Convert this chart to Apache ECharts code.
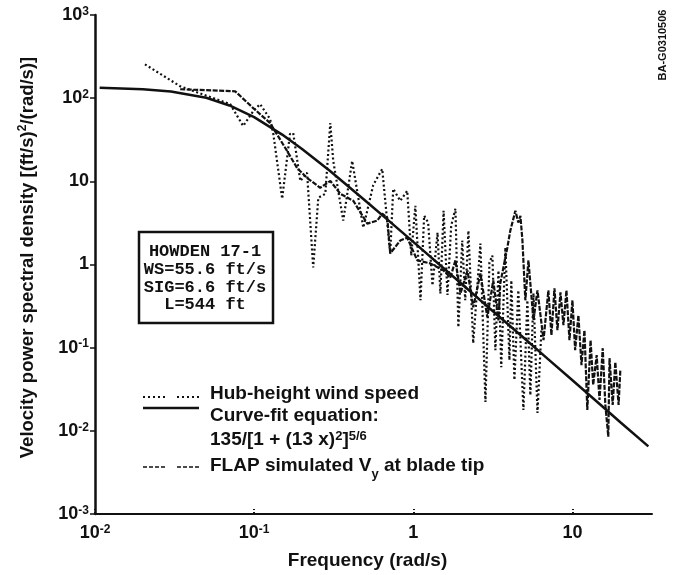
<!DOCTYPE html>
<html>
<head>
<meta charset="utf-8">
<script src="https://cdn.jsdelivr.net/npm/echarts@6/dist/echarts.min.js"></script>
<style>
html, body { margin: 0; background: #fff; }
#main { width: 678px; height: 575px; }
</style>
</head>
<body>
<div id="main"></div>
<script>
// values (frequency in rad/s, PSD in (ft/s)^2/(rad/s))
var hubFreq = [0.0206, 0.0343, 0.0707, 0.0853, 0.0987, 0.109, 0.126, 0.132, 0.150, 0.168, 0.176, 0.195, 0.215, 0.235, 0.253, 0.280, 0.301, 0.314, 0.363, 0.413, 0.485, 0.56, 0.638, 0.716, 0.748, 0.828, 0.916, 0.971, 1.03, 1.11, 1.17, 1.24, 1.32, 1.42, 1.48, 1.55, 1.64, 1.73, 1.84, 1.92, 2.03, 2.12, 2.22, 2.38, 2.64, 2.84, 3.01, 3.14, 3.28, 3.43, 3.57, 3.79, 4.02, 4.13, 4.32, 4.57, 4.92, 5.21, 5.44, 5.69, 6.03, 6.38];
var hubPsd = [255, 139, 84.7, 46.3, 69.8, 84.7, 56.1, 37.1, 6.17, 37.1, 38.1, 10.1, 12.7, 0.92, 6.34, 7.08, 50.2, 17.6, 3.37, 17.6, 2.77, 9.0, 14.1, 1.36, 8.13, 5.83, 7.69, 1.28, 5.09, 0.371, 3.86, 3.19, 0.561, 2.42, 0.45, 4.43, 0.43, 2.93, 4.69, 0.176, 1.94, 0.371, 2.55, 0.113, 1.79, 0.0222, 1.06, 1.28, 0.0934, 0.847, 0.0583, 1.60, 0.0708, 0.643, 0.0408, 0.489, 0.0178, 0.371, 0.0268, 0.45, 0.0164, 0.162];

var fitFreq = [0.0107, 0.02, 0.03, 0.05, 0.07, 0.1, 0.15, 0.2, 0.3, 0.5, 0.7, 1, 2, 3, 5, 7, 10, 15, 20, 30];
var fitPsd = [133, 128, 120, 101, 81.7, 59.2, 36.5, 24.5, 13.3, 5.85, 3.37, 1.87, 0.591, 0.30, 0.129, 0.0733, 0.0405, 0.0206, 0.0127, 0.0065];

var flapFreq = [0.0343, 0.076, 0.0987, 0.126, 0.161, 0.186, 0.215, 0.26, 0.301, 0.348, 0.42, 0.514, 0.594, 0.638, 0.686, 0.716, 0.828, 0.916, 1.06, 1.28, 1.55, 1.71, 1.84, 1.98, 2.19, 2.38, 2.64, 2.92, 3.18, 3.43, 3.52, 3.90, 4.07, 4.38, 4.57, 4.71, 4.85, 5.06, 5.29, 5.69, 6.03, 6.58, 7.06, 7.38, 7.71, 8.05, 8.41, 8.78, 9.17, 9.58, 10.0, 10.4, 10.9, 11.4, 11.9, 12.4, 13.0, 13.5, 14.2, 14.8, 15.5, 16.1, 16.8, 17.1, 17.9, 18.6, 19.5, 20.0];
var flapPsd = [128, 121, 75.9, 50.2, 23.2, 14.5, 11.0, 8.36, 10.1, 7.08, 5.83, 3.10, 3.37, 4.08, 3.66, 1.36, 1.94, 2.10, 1.12, 1.03, 0.847, 0.698, 1.12, 0.45, 0.847, 0.305, 0.78, 0.232, 0.643, 0.213, 0.592, 1.60, 2.55, 4.43, 3.19, 3.86, 1.94, 0.371, 1.12, 0.213, 0.489, 0.123, 0.489, 0.141, 0.516, 0.162, 0.462, 0.186, 0.489, 0.123, 0.371, 0.0934, 0.245, 0.0617, 0.162, 0.0178, 0.123, 0.0356, 0.0813, 0.0235, 0.0986, 0.0205, 0.0085, 0.0748, 0.0205, 0.067, 0.0205, 0.054];

var xTicks = [0.01, 0.1, 1, 10];
var yTicks = [0.001, 0.01, 0.1, 1, 10, 100, 1000];

var infoLines = ['HOWDEN 17-1', 'WS=55.6 ft/s', 'SIG=6.6 ft/s', 'L=544 ft'];

function pairs(xs, ys) {
  return xs.map(function (x, i) { return [x, ys[i]]; });
}

// 10^n labels with raised exponent
function powLabel(v) {
  var e = Math.round(Math.log10(v));
  if (e === 0) return '{b|1}';
  if (e === 1) return '{b|10}';
  return '{b|10}{s|' + e + '}';
}

var ink = '#111';
var font = 'Liberation Sans';
var labelRich = {
  b: { fontFamily: font, fontWeight: 'bold', fontSize: 18, color: ink, lineHeight: 19 },
  s: { fontFamily: font, fontWeight: 'bold', fontSize: 12, color: ink, lineHeight: 12, verticalAlign: 'top' }
};

var myChart = echarts.init(document.getElementById('main'));

var option = {
  backgroundColor: '#fff',
  animation: false,
  grid: { left: 95, right: 26, top: 15, bottom: 58 },
  xAxis: {
    type: 'log',
    logBase: 10,
    min: 0.01,
    max: 31.62,
    name: 'Frequency (rad/s)',
    nameLocation: 'middle',
    nameGap: 37,
    nameTextStyle: { fontFamily: font, fontWeight: 'bold', fontSize: 19, color: ink, padding: [0, 12, 0, 0] },
    axisLine: { lineStyle: { color: ink, width: 2 } },
    axisTick: { show: true, inside: true, length: 5, customValues: xTicks, lineStyle: { color: ink, width: 2, type: 'dotted' } },
    axisLabel: { customValues: xTicks, margin: 10, formatter: powLabel, rich: labelRich },
    splitLine: { show: false },
    minorTick: { show: false }
  },
  yAxis: {
    type: 'log',
    logBase: 10,
    min: 0.001,
    max: 1000,
    name: '{a|Velocity power spectral density [(ft/s)}{s|2}{a|/(rad/s)]}',
    nameLocation: 'middle',
    nameGap: 57,
    nameTextStyle: {
      padding: [0, 0, 0, 14],
      rich: {
        a: { fontFamily: font, fontWeight: 'bold', fontSize: 18.5, color: ink, lineHeight: 21 },
        s: { fontFamily: font, fontWeight: 'bold', fontSize: 12, color: ink, lineHeight: 12, verticalAlign: 'top' }
      }
    },
    axisLine: { lineStyle: { color: ink, width: 2.5 } },
    axisTick: { show: true, length: 5, customValues: yTicks, lineStyle: { color: ink, width: 1.5 } },
    axisLabel: { customValues: yTicks, margin: 6, formatter: powLabel, rich: labelRich },
    splitLine: { show: false }
  },
  series: [
    {
      name: 'Hub-height wind speed',
      type: 'line',
      data: pairs(hubFreq, hubPsd),
      showSymbol: false,
      lineStyle: { color: ink, width: 2.2, type: [2, 2.5] }
    },
    {
      name: 'FLAP simulated Vy at blade tip',
      type: 'line',
      data: pairs(flapFreq, flapPsd),
      showSymbol: false,
      lineStyle: { color: ink, width: 2.2, type: [5, 1.5] }
    },
    {
      name: 'Curve-fit equation',
      type: 'line',
      data: pairs(fitFreq, fitPsd),
      showSymbol: false,
      lineStyle: { color: ink, width: 2.5 }
    }
  ],
  graphic: [
    // info box
    { type: 'rect', shape: { x: 139, y: 232, width: 134, height: 91 }, style: { fill: 'none', stroke: ink, lineWidth: 2.5 } },
    {
      type: 'text', x: 205, y: 243,
      style: { text: infoLines.join('\n'), fontFamily: 'Liberation Mono', fontWeight: 'bold', fontSize: 17, lineHeight: 17.7, fill: ink, align: 'center', verticalAlign: 'top' }
    },
    // legend samples
    { type: 'line', shape: { x1: 143, y1: 397, x2: 165, y2: 397 }, style: { stroke: ink, lineWidth: 2, lineDash: [2, 3] } },
    { type: 'line', shape: { x1: 177, y1: 397, x2: 199, y2: 397 }, style: { stroke: ink, lineWidth: 2, lineDash: [2, 3] } },
    { type: 'line', shape: { x1: 143, y1: 408, x2: 199, y2: 408 }, style: { stroke: ink, lineWidth: 2.5 } },
    { type: 'line', shape: { x1: 143, y1: 467, x2: 165, y2: 467 }, style: { stroke: ink, lineWidth: 1.6, lineDash: [4, 2] } },
    { type: 'line', shape: { x1: 177, y1: 467, x2: 199, y2: 467 }, style: { stroke: ink, lineWidth: 1.6, lineDash: [4, 2] } },
    {
      type: 'text', x: 210, y: 394,
      style: { text: 'Hub-height wind speed', fontFamily: font, fontWeight: 'bold', fontSize: 19, fill: ink, verticalAlign: 'middle' }
    },
    {
      type: 'text', x: 210, y: 416,
      style: { text: 'Curve-fit equation:', fontFamily: font, fontWeight: 'bold', fontSize: 19, fill: ink, verticalAlign: 'middle' }
    },
    {
      type: 'text', x: 210, y: 440,
      style: {
        text: '{a|135/[1 + (13 x)}{s|2}{a|]}{s|5/6}',
        verticalAlign: 'middle',
        rich: {
          a: { fontFamily: font, fontWeight: 'bold', fontSize: 19, fill: ink, lineHeight: 21 },
          s: { fontFamily: font, fontWeight: 'bold', fontSize: 13, fill: ink, lineHeight: 13, verticalAlign: 'top' }
        }
      }
    },
    {
      type: 'text', x: 210, y: 466,
      style: {
        text: '{a|FLAP simulated V}{d|y}{a| at blade tip}',
        verticalAlign: 'middle',
        rich: {
          a: { fontFamily: font, fontWeight: 'bold', fontSize: 19, fill: ink, lineHeight: 21 },
          d: { fontFamily: font, fontWeight: 'bold', fontSize: 13, fill: ink, lineHeight: 13, verticalAlign: 'bottom', padding: [0, 0, -4, 0] }
        }
      }
    },
    // figure id
    {
      type: 'text', x: 663, y: 45, rotation: Math.PI / 2,
      style: { text: 'BA-G0310506', fontFamily: font, fontWeight: 'bold', fontSize: 11, fill: ink, align: 'center', verticalAlign: 'middle' }
    }
  ]
};

myChart.setOption(option);
</script>
</body>
</html>
